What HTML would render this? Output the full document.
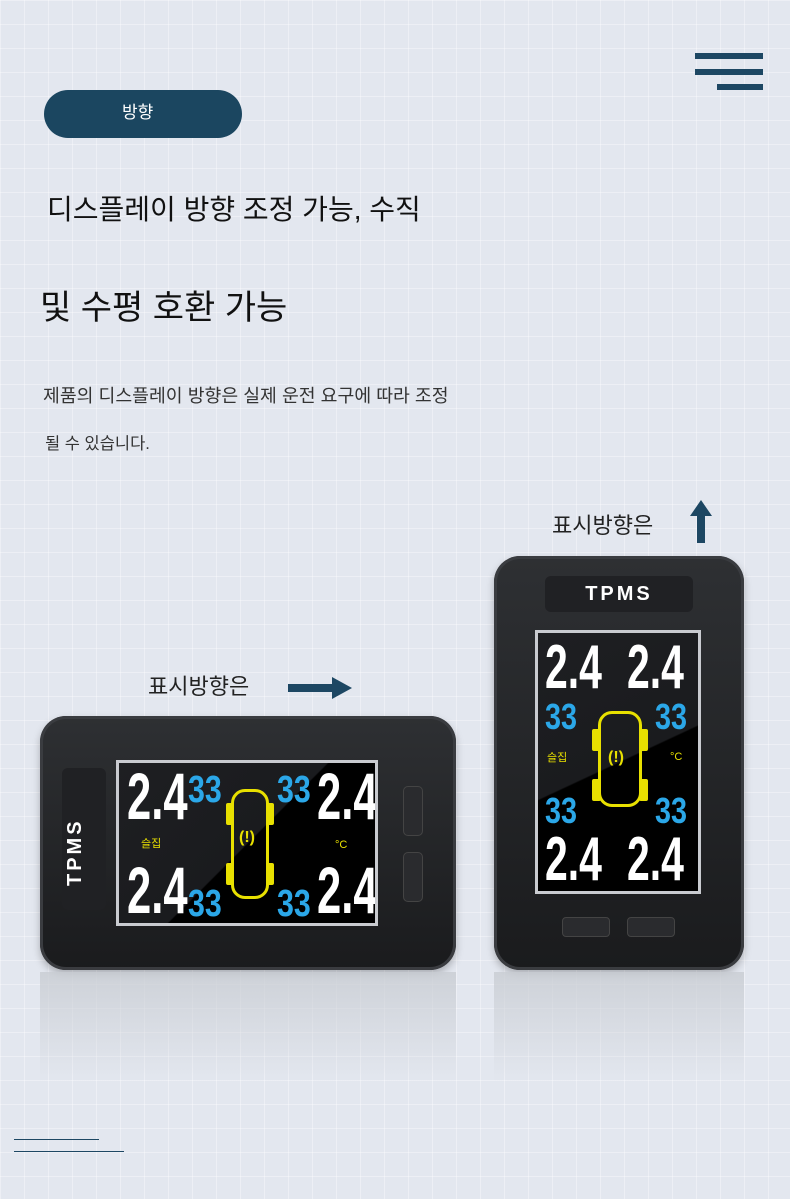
<!DOCTYPE html>
<html><head><meta charset="utf-8"><style>
*{margin:0;padding:0;box-sizing:border-box}
body{width:790px;height:1199px;overflow:hidden;position:relative;font-family:"Liberation Sans","Noto Sans CJK KR",sans-serif;
background-color:#e3e7ef;
background-image:linear-gradient(rgba(255,255,255,.35) 1px,transparent 1px),linear-gradient(90deg,rgba(255,255,255,.35) 1px,transparent 1px);
background-size:24px 24px}
.a{position:absolute}
.t{color:#111;white-space:nowrap}
.dev{background:linear-gradient(#2e3033,#1a1b1d);border-radius:26px;box-shadow:inset 0 0 0 3px #3a3c40,0 4px 8px rgba(0,0,0,.25)}
.scr{background:linear-gradient(135deg,#1e1f22 0%,#1a1b1e 50%,#000 50.5%);border:3px solid #c9cbd0;overflow:hidden}
.d{position:absolute;color:#fff;font-family:"Liberation Sans",sans-serif;font-weight:bold;line-height:1;transform:scaleX(.66);transform-origin:0 0;white-space:nowrap}
.b{position:absolute;color:#2ba7e8;font-family:"Liberation Sans",sans-serif;font-weight:bold;line-height:1;transform:scaleX(.8);transform-origin:0 0}
.y{position:absolute;color:#e8e000;font-size:11px}
.car{position:absolute;border:3px solid #e8e000;border-radius:14px}
.w{position:absolute;background:#e8e000;border-radius:2px}
</style></head><body>
<div class="a" style="left:695px;top:53px;width:68px;height:6px;background:#1d4763"></div>
<div class="a" style="left:695px;top:69px;width:68px;height:6px;background:#1d4763"></div>
<div class="a" style="left:717px;top:84px;width:46px;height:6px;background:#1d4763"></div>
<div class="a" style="left:44px;top:90px;width:198px;height:48px;border-radius:24px;background:#1b4660;color:#fff;font-size:17px;line-height:46px;padding-left:78px">방향</div>
<div class="a t" style="left:47px;top:188px;font-size:28px">디스플레이 방향 조정 가능, 수직</div>
<div class="a t" style="left:40px;top:280px;font-size:34px">및 수평 호환 가능</div>
<div class="a t" style="left:43px;top:382px;font-size:18.3px;color:#333">제품의 디스플레이 방향은 실제 운전 요구에 따라 조정</div>
<div class="a t" style="left:45px;top:430px;font-size:16.5px;color:#333">될 수 있습니다.</div>
<div class="a t" style="left:552px;top:508px;font-size:22px;color:#222">표시방향은</div>
<div class="a" style="left:697px;top:513px;width:8px;height:30px;background:#1d4763"></div>
<div class="a" style="left:690px;top:500px;width:0;height:0;border-left:11px solid transparent;border-right:11px solid transparent;border-bottom:16px solid #1d4763"></div>
<div class="a t" style="left:148px;top:669px;font-size:22px;color:#222">표시방향은</div>
<div class="a" style="left:288px;top:684px;width:46px;height:8px;background:#1d4763"></div>
<div class="a" style="left:332px;top:677px;width:0;height:0;border-top:11px solid transparent;border-bottom:11px solid transparent;border-left:20px solid #1d4763"></div>

<!-- left device -->
<div class="a dev" style="left:40px;top:716px;width:416px;height:254px"></div>
<div class="a" style="left:62px;top:768px;width:44px;height:142px;background:#202124;border-radius:6px"></div>
<div class="a" style="left:64px;top:886px;transform:rotate(-90deg);transform-origin:0 0;color:#fff;font-weight:bold;font-size:20px;letter-spacing:3px">TPMS</div>
<div class="a" style="left:403px;top:786px;width:20px;height:50px;background:#2a2b2e;border:1px solid #444;border-radius:5px"></div>
<div class="a" style="left:403px;top:852px;width:20px;height:50px;background:#2a2b2e;border:1px solid #444;border-radius:5px"></div>
<div class="a scr" style="left:116px;top:760px;width:262px;height:166px">
 <div class="d" style="left:8px;top:0px;font-size:66px">2.4</div>
 <div class="b" style="left:69px;top:8px;font-size:38px">33</div>
 <div class="b" style="left:158px;top:8px;font-size:38px">33</div>
 <div class="d" style="left:198px;top:0px;font-size:66px">2.4</div>
 <div class="d" style="left:8px;top:94px;font-size:66px">2.4</div>
 <div class="b" style="left:69px;top:122px;font-size:38px">33</div>
 <div class="b" style="left:158px;top:122px;font-size:38px">33</div>
 <div class="d" style="left:198px;top:94px;font-size:66px">2.4</div>
 <div class="y" style="left:22px;top:72px">슬집</div>
 <div class="y" style="left:216px;top:76px">°C</div>
 <div class="car" style="left:112px;top:26px;width:38px;height:110px"></div>
 <div class="w" style="left:107px;top:40px;width:8px;height:22px"></div>
 <div class="w" style="left:147px;top:40px;width:8px;height:22px"></div>
 <div class="w" style="left:107px;top:100px;width:8px;height:22px"></div>
 <div class="w" style="left:147px;top:100px;width:8px;height:22px"></div>
 <div class="y" style="left:120px;top:66px;font-size:16px;font-weight:bold">(!)</div>
</div>

<!-- right device -->
<div class="a dev" style="left:494px;top:556px;width:250px;height:414px"></div>
<div class="a" style="left:545px;top:576px;width:148px;height:36px;background:#202124;border-radius:6px;color:#fff;font-weight:bold;font-size:20px;letter-spacing:3px;text-align:center;line-height:36px">TPMS</div>
<div class="a" style="left:562px;top:917px;width:48px;height:20px;background:#2a2b2e;border:1px solid #444;border-radius:4px"></div>
<div class="a" style="left:627px;top:917px;width:48px;height:20px;background:#2a2b2e;border:1px solid #444;border-radius:4px"></div>
<div class="a scr" style="left:535px;top:630px;width:166px;height:264px;background:linear-gradient(155deg,#1e1f22 0%,#1a1b1e 50%,#000 50.5%)">
 <div class="d" style="left:7px;top:4px;font-size:62px">2.4</div>
 <div class="d" style="left:89px;top:4px;font-size:62px">2.4</div>
 <div class="b" style="left:7px;top:66px;font-size:36px">33</div>
 <div class="b" style="left:117px;top:66px;font-size:36px">33</div>
 <div class="y" style="left:9px;top:116px">슬집</div>
 <div class="y" style="left:132px;top:118px">°C</div>
 <div class="b" style="left:7px;top:160px;font-size:36px">33</div>
 <div class="b" style="left:117px;top:160px;font-size:36px">33</div>
 <div class="d" style="left:7px;top:196px;font-size:62px">2.4</div>
 <div class="d" style="left:89px;top:196px;font-size:62px">2.4</div>
 <div class="car" style="left:60px;top:78px;width:44px;height:96px"></div>
 <div class="w" style="left:54px;top:96px;width:9px;height:22px"></div>
 <div class="w" style="left:101px;top:96px;width:9px;height:22px"></div>
 <div class="w" style="left:54px;top:146px;width:9px;height:22px"></div>
 <div class="w" style="left:101px;top:146px;width:9px;height:22px"></div>
 <div class="y" style="left:70px;top:116px;font-size:16px;font-weight:bold">(!)</div>
</div>

<!-- reflections -->
<div class="a" style="left:40px;top:972px;width:416px;height:110px;background:linear-gradient(rgba(200,204,210,.8),rgba(227,231,239,0))"></div>
<div class="a" style="left:494px;top:972px;width:250px;height:110px;background:linear-gradient(rgba(200,204,210,.8),rgba(227,231,239,0))"></div>

<div class="a" style="left:14px;top:1139px;width:85px;height:1px;background:#1d4763"></div>
<div class="a" style="left:14px;top:1151px;width:110px;height:1px;background:#1d4763"></div>
</body></html>
